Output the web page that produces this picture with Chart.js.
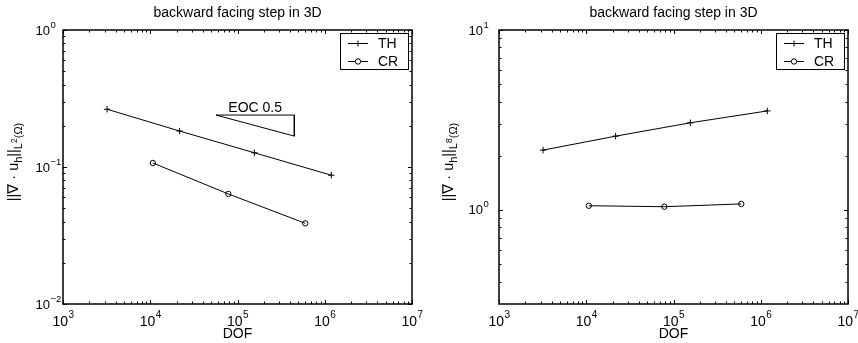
<!DOCTYPE html>
<html><head><meta charset="utf-8">
<script src="https://cdn.jsdelivr.net/npm/chart.js@4.4.1/dist/chart.umd.min.js"></script>
<style>
html,body{margin:0;padding:0;background:#fff;width:858px;height:343px;overflow:hidden}
canvas{position:absolute;top:0}
#c1{left:0}
#c2{left:430px}
</style></head><body>
<canvas id="c1" width="430" height="343"></canvas>
<canvas id="c2" width="428" height="343"></canvas>
<script>
// ---------- data ----------
const titleText = 'backward facing step in 3D';
const xAxisLabel = 'DOF';
const seriesNames = ['TH', 'CR'];
const dofTH = [3200, 21700, 156000, 1190000];
const dofCR = [10700, 78500, 598000];
const l2TH = [0.264, 0.183, 0.127, 0.0871];
const l2CR = [0.107, 0.0636, 0.0388];
const linfTH = [2.15, 2.57, 3.05, 3.55];
const linfCR = [1.055, 1.042, 1.08];
const eocLabel = 'EOC 0.5';
const eocX = [56700, 448000];
const eocY = [0.2395, 0.168];
const xDecades = [1e3, 1e4, 1e5, 1e6, 1e7];
const leftYDecades = [1e-2, 1e-1, 1];
const rightYDecades = [1e-1, 1, 10];
const minorMultipliers = [2, 3, 4, 5, 6, 7, 8, 9];
const leftYLabel = [['||\u2207 \u00b7 u', 0], ['h', 1], ['||', 0], ['L', 1], ['2', 2], ['(\u03a9)', 1]];
const rightYLabel = [['||\u2207 \u00b7 u', 0], ['h', 1], ['||', 0], ['L', 1], ['8', 2], ['(\u03a9)', 1]];

const FONT = '"Liberation Sans", Arial, Helvetica, sans-serif';

function tickValues(decades, min, max) {
  const out = [];
  decades.forEach(d => {
    out.push(d);
    minorMultipliers.forEach(m => out.push(m * d));
  });
  return out.filter(v => v >= min * 0.9999 && v <= max * 1.0001);
}
function isDecade(v) {
  const e = Math.log10(v);
  return Math.abs(e - Math.round(e)) < 1e-6;
}

const matlabPlugin = {
  id: 'matlab',
  afterDatasetsDraw(chart, args, opts) {
    const ctx = chart.ctx;
    const a = chart.chartArea;
    const xs = chart.scales.x, ys = chart.scales.y;
    ctx.save();
    ctx.strokeStyle = '#000';
    ctx.lineWidth = 1;
    // ticks
    ctx.beginPath();
    xs.ticks.forEach(t => {
      const px = Math.round(xs.getPixelForValue(t.value)) + 0.5;
      const len = isDecade(t.value) ? 4 : 2.5;
      ctx.moveTo(px, a.bottom); ctx.lineTo(px, a.bottom - len);
      ctx.moveTo(px, a.top); ctx.lineTo(px, a.top + len);
    });
    ys.ticks.forEach(t => {
      const py = Math.round(ys.getPixelForValue(t.value)) + 0.5;
      const len = isDecade(t.value) ? 4 : 2.5;
      ctx.moveTo(a.left, py); ctx.lineTo(a.left + len, py);
      ctx.moveTo(a.right, py); ctx.lineTo(a.right - len, py);
    });
    ctx.stroke();
    // box
    ctx.lineWidth = 1.5;
    ctx.strokeRect(a.left, a.top, a.right - a.left, a.bottom - a.top);

    ctx.fillStyle = '#000';
    // x tick labels
    xs.ticks.forEach(t => {
      if (!isDecade(t.value)) return;
      const e = String(Math.round(Math.log10(t.value)));
      const px = xs.getPixelForValue(t.value);
      ctx.font = '14px ' + FONT;
      const w1 = ctx.measureText('10').width;
      ctx.font = '10px ' + FONT;
      const w2 = ctx.measureText(e).width;
      const x0 = px - (w1 + w2) / 2;
      ctx.textAlign = 'left';
      ctx.textBaseline = 'alphabetic';
      ctx.font = '14px ' + FONT;
      ctx.fillText('10', x0, a.bottom + 22);
      ctx.font = '10px ' + FONT;
      ctx.fillText(e, x0 + w1 + 0.5, a.bottom + 14);
    });
    // y tick labels
    ys.ticks.forEach(t => {
      if (!isDecade(t.value)) return;
      const py = ys.getPixelForValue(t.value);
      if (py < a.top - 1 || py > a.bottom + 1) return;
      const ev = Math.round(Math.log10(t.value));
      const e = ev < 0 ? '\u2212' + (-ev) : String(ev);
      const xr = a.left - opts.yGap;
      ctx.textBaseline = 'alphabetic';
      ctx.font = '13px ' + FONT;
      ctx.textAlign = 'right';
      ctx.fillText('10', xr, py + 4.5);
      ctx.textAlign = 'left';
      ctx.font = '9.5px ' + FONT;
      ctx.fillText(e, xr + 0.5, py - 2.5);
    });
    // x axis title
    ctx.font = '14px ' + FONT;
    ctx.textAlign = 'center';
    ctx.textBaseline = 'alphabetic';
    ctx.fillText(xAxisLabel, (a.left + a.right) / 2, a.bottom + 34);
    // y axis title (rotated, composed)
    const sizes = [14.5, 11, 8.5];
    const offs = [0, 4, -1.5];
    const parts = opts.yLabel;
    let total = 0;
    const widths = parts.map(p => {
      ctx.font = sizes[p[1]] + 'px ' + FONT;
      const w = ctx.measureText(p[0]).width;
      total += w;
      return w;
    });
    ctx.translate(opts.yLabelX, (a.top + a.bottom) / 2 - 5);
    ctx.rotate(-Math.PI / 2);
    ctx.textAlign = 'left';
    let cx = -total / 2;
    parts.forEach((p, i) => {
      ctx.font = sizes[p[1]] + 'px ' + FONT;
      ctx.fillText(p[0], cx, offs[p[1]]);
      cx += widths[i];
    });
    ctx.restore();

    // EOC label
    if (opts.eoc) {
      ctx.save();
      ctx.fillStyle = '#000';
      ctx.font = '14px ' + FONT;
      ctx.textAlign = 'center';
      ctx.textBaseline = 'alphabetic';
      const cxp = (xs.getPixelForValue(eocX[0]) + xs.getPixelForValue(eocX[1])) / 2;
      ctx.fillText(eocLabel, cxp, ys.getPixelForValue(eocY[0]) - 3);
      ctx.restore();
    }
  },
  afterDraw(chart) {
    const ctx = chart.ctx;
    const a = chart.chartArea;
    const w = 68, h = 36;
    const bx = a.right - 4 - w, by = a.top + 3;
    ctx.save();
    ctx.fillStyle = '#fff';
    ctx.fillRect(bx, by, w, h);
    ctx.strokeStyle = '#000';
    ctx.lineWidth = 1;
    ctx.strokeRect(bx + 0.5, by + 0.5, w, h);
    const rows = [by + 10.5, by + 28.5];
    chart.data.datasets.slice(0, 2).forEach((ds, i) => {
      const y = rows[i];
      ctx.beginPath();
      ctx.moveTo(bx + 8, y); ctx.lineTo(bx + 28, y);
      ctx.stroke();
      const mx = bx + 18;
      if (ds.pointStyle === 'cross') {
        ctx.beginPath();
        ctx.moveTo(mx - 3, y); ctx.lineTo(mx + 3, y);
        ctx.moveTo(mx, y - 3); ctx.lineTo(mx, y + 3);
        ctx.stroke();
      } else {
        ctx.beginPath();
        ctx.arc(mx, y, 2.7, 0, Math.PI * 2);
        ctx.fillStyle = '#fff';
        ctx.fill();
        ctx.stroke();
      }
      ctx.fillStyle = '#000';
      ctx.font = '14px ' + FONT;
      ctx.textAlign = 'left';
      ctx.textBaseline = 'middle';
      ctx.fillText(ds.label, bx + 38, y + 0.5);
    });
    ctx.restore();
  }
};

function makeChart(id, thY, crY, yMin, yMax, yDecades, extra) {
  const datasets = [
    { label: seriesNames[0], data: dofTH.map((x, i) => ({ x, y: thY[i] })),
      borderColor: '#000', borderWidth: 1, showLine: true, pointStyle: 'cross',
      pointRadius: 3.2, pointBorderWidth: 1, pointBorderColor: '#000', backgroundColor: '#000' },
    { label: seriesNames[1], data: dofCR.map((x, i) => ({ x, y: crY[i] })),
      borderColor: '#000', borderWidth: 1, showLine: true, pointStyle: 'circle',
      pointRadius: 2.7, pointBorderWidth: 1, pointBorderColor: '#000', pointBackgroundColor: 'rgba(255,255,255,0)' }
  ];
  if (extra.eoc) {
    datasets.push({ label: eocLabel,
      data: [{ x: eocX[0], y: eocY[0] }, { x: eocX[1], y: eocY[0] }, { x: eocX[1], y: eocY[1] }, { x: eocX[0], y: eocY[0] }],
      borderColor: '#000', borderWidth: 1, showLine: true, pointRadius: 0, fill: false });
  }
  return new Chart(document.getElementById(id), {
    type: 'scatter',
    data: { datasets },
    options: {
      responsive: false, animation: false, devicePixelRatio: 1,
      layout: { autoPadding: false, padding: { left: 0, right: extra.padRight, top: 0, bottom: 0 } },
      plugins: {
        legend: { display: false }, tooltip: { enabled: false },
        title: { display: true, text: titleText, fullSize: false, color: '#000',
          font: { family: FONT, size: 14, weight: 'normal' }, padding: { top: 5, bottom: 8.2 } },
        matlab: { yGap: extra.yGap, yLabel: extra.yLabel, yLabelX: extra.yLabelX, eoc: extra.eoc }
      },
      scales: {
        x: { type: 'logarithmic', min: 1e3, max: 1e7, position: 'bottom',
          grid: { display: false }, border: { display: false }, ticks: { display: false },
          afterBuildTicks: s => { s.ticks = tickValues(xDecades, 1e3, 1e7).map(v => ({ value: v })); },
          afterFit: s => { s.height = 39; } },
        y: { type: 'logarithmic', min: yMin, max: yMax, position: 'left',
          grid: { display: false }, border: { display: false }, ticks: { display: false },
          afterBuildTicks: s => { s.ticks = tickValues(yDecades, yMin, yMax).map(v => ({ value: v })); },
          afterFit: s => { s.width = extra.yWidth; } }
      }
    },
    plugins: [matlabPlugin]
  });
}

makeChart('c1', l2TH, l2CR, 1e-2, 1, leftYDecades,
  { padRight: 18, yWidth: 63, yGap: 13, yLabel: leftYLabel, yLabelX: 18, eoc: true });
makeChart('c2', linfTH, linfCR, 0.3162, 10, rightYDecades,
  { padRight: 10, yWidth: 69, yGap: 16, yLabel: rightYLabel, yLabelX: 23, eoc: false });
</script>
</body></html>
